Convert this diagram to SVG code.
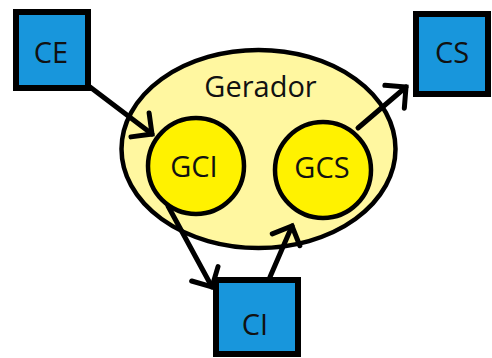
<svg xmlns="http://www.w3.org/2000/svg" width="492" height="358" viewBox="0 0 492 358">
  <defs>
    <marker id="head" markerUnits="userSpaceOnUse" markerWidth="40" markerHeight="40" refX="0" refY="0" viewBox="-25 -20 30 40" orient="auto" overflow="visible">
      <path d="M-15,-15 L0,0 L-15,15" fill="none" stroke="#000" stroke-width="5" stroke-linecap="round" stroke-linejoin="miter"/>
    </marker>
    <style>
      .box { fill: #1896DC; stroke: #000; stroke-width: 6; }
      .outer { fill: #FFF7A0; stroke: #000; stroke-width: 4.5; }
      .inner { fill: #FFF200; stroke: #000; stroke-width: 4.5; }
      .label { font-family: "Open Sans", "Liberation Sans", sans-serif; font-size: 29px; fill: #111; text-anchor: middle; }
      .edge { fill: none; stroke: #000; stroke-width: 5; stroke-linecap: round; marker-end: url(#head); }
    </style>
  </defs>
  <rect width="492" height="358" fill="#fff"/>

  <!-- Gerador: outer ellipse holding GCI and GCS -->
  <g id="gerador">
    <ellipse class="outer" cx="258.5" cy="149" rx="137" ry="99"/>
    <text class="label" x="260.5" y="97">Gerador</text>
  </g>
  <g id="gci">
    <circle class="inner" cx="196" cy="166" r="48"/>
    <text class="label" x="194" y="177">GCI</text>
  </g>
  <g id="gcs">
    <circle class="inner" cx="323" cy="170" r="48"/>
    <text class="label" x="322" y="178">GCS</text>
  </g>

  <!-- external blocks -->
  <g id="ce">
    <rect class="box" x="16" y="12" width="72" height="76"/>
    <text class="label" x="51" y="63">CE</text>
  </g>
  <g id="cs">
    <rect class="box" x="416" y="14" width="72" height="80"/>
    <text class="label" x="452" y="63">CS</text>
  </g>
  <g id="ci">
    <rect class="box" x="216" y="280" width="82" height="74"/>
    <text class="label" x="255" y="335">CI</text>
  </g>

  <!-- connectors -->
  <g id="connectors">
    <line class="edge" x1="90" y1="87" x2="152" y2="134"/>
    <line class="edge" x1="358" y1="128" x2="406" y2="87"/>
    <line class="edge" x1="168" y1="206" x2="212" y2="287"/>
    <line class="edge" x1="270" y1="277" x2="292" y2="226"/>
  </g>
</svg>
